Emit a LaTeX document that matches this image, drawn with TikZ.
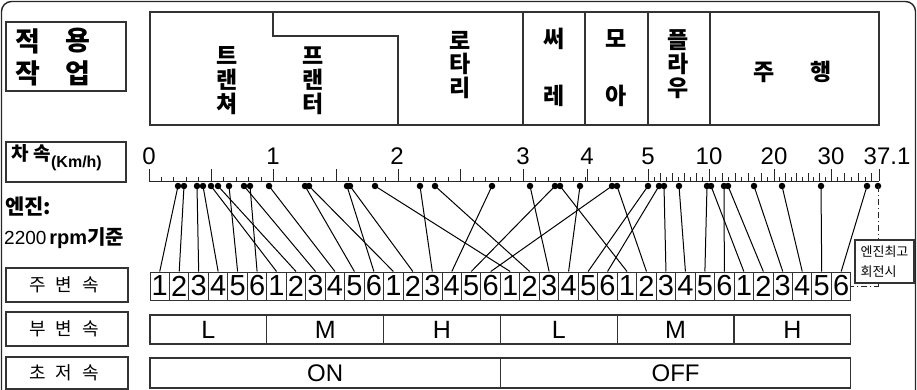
\documentclass[tikz,border=0pt]{standalone}
\usepackage{fontspec}
\setmainfont{Liberation Sans}
\newfontfamily\kr{Noto Sans CJK KR}
\tikzset{
  bx/.style={draw=black!80, line width=1.2pt},
  kbig/.style={font=\kr\bfseries\fontsize{23}{23}\selectfont, inner sep=0pt},
  khead/.style={font=\kr\bfseries\fontsize{27}{27}\selectfont, inner sep=0pt},
  klab/.style={font=\kr\fontsize{18}{18}\selectfont, inner sep=0pt},
  num/.style={font=\fontsize{24}{24}\selectfont, inner sep=0pt},
  gearbox/.style={draw=black!80, line width=1pt, minimum width=19.47pt, minimum height=28pt, inner sep=0pt, font=\fontsize{29}{29}\selectfont},
  rangebox/.style={draw=black!80, line width=1.2pt, minimum width=116.8pt, minimum height=29pt, inner sep=0pt, font=\fontsize{25}{25}\selectfont},
  crbox/.style={draw=black!80, line width=1.2pt, minimum width=350.4pt, minimum height=30pt, inner sep=0pt, font=\fontsize{24}{24}\selectfont},
  labbox/.style={draw=black!80, line width=1.2pt, minimum width=122pt, minimum height=34pt, inner sep=0pt},
  dotn/.style={circle, fill=black, inner sep=0pt, minimum size=6.5pt},
  conn/.style={draw=black, line width=1pt},
  tk/.style={draw=black!85, line width=1pt},
  dsh/.style={draw=black!85, line width=1pt, dash pattern=on 6pt off 3pt on 1pt off 3pt},
}
\begin{document}
\begin{tikzpicture}[x=1pt,y=-1pt]
\useasboundingbox (0,0) rectangle (917,390);
\begin{scope}
\clip (0,0) rectangle (917,390);
\draw[draw=black!85, line width=1.4pt, rounded corners=10pt] (1.5,1.5) rectangle (915.5,430);
\end{scope}

% heading box
\draw[bx] (6,22) rectangle (126,91);
\node[khead] (h1) at (27.5,41) {적};
\node[khead] (h2) at (77.5,41) {용};
\node[khead] (h3) at (27.5,73.5) {작};
\node[khead] (h4) at (77.5,73.5) {업};

% top table
\draw[bx] (150,12) rectangle (879,125);
\draw[bx] (273,12) -- (273,36) -- (398,36) -- (398,125);
\foreach \xx in {523,585,648,710} {\draw[bx] (\xx,12) -- (\xx,125);}
\node[kbig] (a1) at (227,56) {트};
\node[kbig] (a2) at (227,80) {랜};
\node[kbig] (a3) at (227,104) {쳐};
\node[kbig] (b1) at (313,56) {프};
\node[kbig] (b2) at (313,80) {랜};
\node[kbig] (b3) at (313,104) {터};
\node[kbig] (c1) at (460,40) {로};
\node[kbig] (c2) at (460,64) {타};
\node[kbig] (c3) at (460,88) {리};
\node[kbig] (e1) at (554,39) {써};
\node[kbig] (e2) at (554,96) {레};
\node[kbig] (f1) at (616,39) {모};
\node[kbig] (f2) at (616,96) {아};
\node[kbig] (p1) at (678,40) {플};
\node[kbig] (p2) at (678,64) {라};
\node[kbig] (p3) at (678,88) {우};
\node[kbig] (r1) at (764,72) {주};
\node[kbig] (r2) at (821,72) {행};

% speed label
\node[bx, minimum width=120pt, minimum height=40pt, inner sep=0pt] (spd) at (66,162) {};
\node[anchor=west, inner sep=0pt] (spdt) at (11,158) {{\kr\bfseries\fontsize{19}{19}\selectfont 차\hspace{5pt}속}\raisebox{-7pt}{\bfseries\fontsize{16}{16}\selectfont (Km/h)}};
\node[anchor=west, inner sep=0pt] (eng) at (5,206) {\kr\bfseries\fontsize{21}{21}\selectfont 엔진:};
\node[anchor=west, inner sep=0pt] (rpm) at (4,238) {{\fontsize{19}{19}\selectfont 2200}\hspace{3pt}{\bfseries\fontsize{20}{20}\selectfont rpm}{\kr\bfseries\fontsize{20}{20}\selectfont 기준}};

% axis
\draw[tk] (149,181) -- (879,181);
\foreach \k in {0,...,30} {\draw[tk] ({149+12.4667*\k},181) -- ++(0,-4);}
\foreach \k in {0,5,...,30} {\draw[tk] ({149+12.4667*\k},181) -- ++(0,-12);}
\foreach \k in {1,...,9} {\draw[tk] ({523+12.5*\k},181) -- ++(0,-4);}
\foreach \xx in {587,648} {\draw[tk] (\xx,181) -- ++(0,-12);}
\foreach \a/\w in {648/6.1,709/6.5,774/5.7} {
  \foreach \k in {1,3,...,9} {\draw[tk] ({\a+\w*\k},181) -- ++(0,-4);}
  \foreach \k in {2,4,...,8} {\draw[tk] ({\a+\w*\k},181) -- ++(0,-7.5);}
}
\foreach \xx in {709,774,831,879} {\draw[tk] (\xx,181) -- ++(0,-12);}
\foreach \k in {1,3,5} {\draw[tk] ({831+6.8*\k},181) -- ++(0,-4);}
\foreach \k in {2,4,6} {\draw[tk] ({831+6.8*\k},181) -- ++(0,-7.5);}
\foreach \xx/\t in {149/0,273/1,397/2,523/3,587/4,648/5,709/10,774/20,831/30} {
  \node[num] (n\t) at (\xx,156) {\t};
}
\node[num] (nmax) at (887,156) {37.1};

% gear boxes
\foreach \i in {0,...,35} {
  \pgfmathtruncatemacro\dg{mod(\i,6)+1}
  \node[gearbox] (g\i) at ({150+19.47*(\i+0.5)},286) {\dg};
}
% sub-range boxes
\foreach \i/\t in {0/L,1/M,2/H,3/L,4/M,5/H} {
  \node[rangebox] (s\i) at ({150+116.8*(\i+0.5)},329.5) {\t};
}
\node[crbox] (cron) at (325.2,373) {ON};
\node[crbox] (croff) at (675.6,373) {OFF};

% row labels
\node[labbox] (l1) at (67,285) {};
\node[labbox] (l2) at (67,329) {};
\node[labbox, minimum height=32pt] (l3) at (67,373) {};
\node[klab] (l1t) at (64,285) {주\hspace{10pt}변\hspace{10pt}속};
\node[klab] (l2t) at (64,329) {부\hspace{10pt}변\hspace{10pt}속};
\node[klab] (l3t) at (64,373) {초\hspace{10pt}저\hspace{10pt}속};

% dots
\foreach \x in {178,184,197,203,211,218,229,244,250,269,305,309,347,350,375,420,435,492,530,555,560,580,612,617,648,659,664,679,707,711,724,728,754,782,821,867,878} {
  \node[dotn] (d\x) at (\x,186) {};
}
\foreach \x/\g in {178/0,184/1,197/2,203/3,229/4,250/5,211/6,218/7,244/8,269/9,305/10,347/11,309/12,350/13,420/14,492/15,555/16,612/17,375/18,435/19,530/20,580/21,648/22,659/23,560/24,617/25,664/26,679/27,707/28,724/29,711/30,728/31,754/32,782/33,821/34,867/35} {
  \draw[conn] (d\x.center) -- (g\g.north);
}

% engine max box
\node[draw=black!80, line width=1.2pt, minimum width=59pt, minimum height=43pt, inner sep=2pt, align=left, font=\kr\fontsize{13}{20}\selectfont] (mx) at (884.5,261.5) {엔진최고\\회전시};
\coordinate (dl) at (878,286);
\draw[dsh] (d878.center) -- (d878 |- mx.north);
\draw[dsh] (mx.south -| d878) -- (dl) -- (dl -| g35.east);
\end{tikzpicture}
\end{document}
